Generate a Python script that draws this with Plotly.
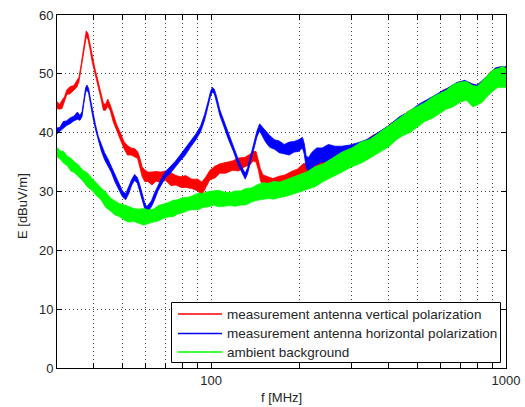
import plotly.graph_objects as go

# ---------------- data ----------------
red_f = [30, 30.6, 31.2, 31.8, 32.4, 33.2, 34.2, 35.0, 35.6, 36.2, 36.8, 37.3, 37.7, 38.2, 38.8, 39.5,
         40.3, 41.2, 42.2, 43.1, 43.8, 44.6, 45.5, 46.5, 47.8, 49.2, 50.6, 52.0, 53.5, 55.0, 56.3,
         57.3, 58.3, 59.5, 61, 63, 65, 67.5, 70, 73, 76, 79, 82, 86, 90, 93, 96, 99, 103, 107, 112,
         118, 124, 130, 135, 139, 142, 144.5, 147, 150, 155, 162, 170, 178, 187, 196, 205, 214, 225,
         240, 255, 272, 290, 310, 330, 355, 380, 405, 435, 465, 500, 535, 570, 610, 650, 690, 725,
         760, 790, 820, 850, 880, 910, 940, 970, 1000]
red_c = [44.7, 44.4, 44.8, 45.6, 46.9, 47.2, 47.6, 48.2, 49.0, 51.0, 53.4, 55.4, 56.8, 56.4, 54.6, 52.6,
         50.6, 48.6, 46.4, 44.4, 44.3, 45.1, 44.2, 42.6, 40.9, 39.4, 37.9, 37.0, 36.8, 36.6, 36.2,
         35.0, 33.4, 32.7, 32.5, 32.2, 32.6, 32.4, 32.7, 32.1, 31.9, 31.6, 31.7, 31.3, 31.1, 30.5,
         31.6, 32.8, 33.3, 33.9, 34.0, 34.4, 34.6, 35.0, 35.4, 36.0, 35.9, 34.6, 32.8, 31.9, 31.4,
         31.3, 31.6, 31.9, 32.3, 32.8, 33.4, 33.6, 33.6, 33.7, 34.3, 35.0, 35.6, 36.5, 37.1, 38.0,
         38.8, 40.0, 41.0, 42.0, 42.9, 43.9, 44.6, 45.6, 46.3, 47.1, 47.3, 46.8, 46.5, 47.1, 47.8,
         48.6, 49.3, 49.6, 49.8, 49.6]
red_hw = [0.6, 0.4, 0.7, 0.5, 0.4, 0.6, 0.4, 0.5, 0.4, 0.5, 0.4, 0.5, 0.5, 0.5, 0.4, 0.6,
          0.4, 0.5, 0.4, 0.6, 0.5, 0.6, 0.5, 0.7, 0.5, 0.6, 0.6, 0.8, 0.6, 0.7, 0.6,
          0.7, 0.8, 1.0, 0.8, 1.1, 0.8, 0.9, 0.8, 1.1, 0.8, 0.9, 1.0, 0.8, 1.0, 1.1,
          0.9, 0.8, 1.0, 0.8, 0.9, 0.8, 1.1, 0.8, 0.9, 0.8, 0.9, 0.9, 1.0, 0.9, 1.1,
          0.9, 1.0, 0.9, 1.1, 1.0, 1.3, 1.3, 1.4, 1.5, 1.4, 1.6, 1.5, 1.5, 1.4, 1.6,
          1.4, 1.5, 1.4, 1.6, 1.4, 1.5, 1.4, 1.6, 1.4, 1.5, 1.4, 1.6, 1.4, 1.5, 1.4,
          1.6, 1.4, 1.5, 1.4, 1.5]

blue_f = [30, 30.7, 31.5, 32.3, 33.2, 34.2, 35.2, 35.9, 36.5, 37.0, 37.5, 37.9, 38.4, 39.0, 39.7,
          40.5, 41.4, 42.4, 43.5, 44.6, 45.8, 47.2, 48.7, 50.0, 51.3, 52.5, 53.8, 55.0, 56.2, 57.3,
          58.4, 59.5, 60.4, 61.4, 62.7, 64.3, 66, 68, 70, 72.5, 75.5, 78.5, 81.5, 85, 88.5, 92, 95,
          97.5, 99.5, 101, 102.5, 104.5, 107, 110.5, 114.5, 119, 123.5, 127.5, 130.5, 133, 136,
          139.5, 143, 146, 149, 153, 158, 164, 170, 177, 184, 191, 198, 204, 207, 210, 214, 220,
          228, 238, 250, 263, 278, 295, 315, 340, 370, 400, 435, 470, 505, 545, 590, 635, 680, 725,
          765, 800, 840, 880, 920, 960, 1000]
blue_c = [40.3, 40.5, 41.3, 41.6, 42.0, 42.4, 42.9, 42.5, 43.2, 45.4, 47.2, 47.7, 47.1, 45.2, 43.0,
          41.0, 39.0, 37.4, 36.0, 35.0, 33.8, 32.2, 30.7, 29.6, 29.1, 30.2, 31.6, 32.4, 31.9, 30.6,
          29.0, 27.6, 26.9, 27.3, 27.9, 29.2, 30.6, 31.8, 32.9, 33.6, 34.6, 35.7, 36.7, 38.0, 39.2,
          40.6, 42.6, 44.8, 46.6, 47.3, 47.0, 45.5, 43.4, 41.5, 39.3, 37.3, 35.0, 33.5, 32.6, 33.6,
          35.6, 37.8, 39.8, 40.9, 40.3, 39.3, 38.5, 38.0, 37.6, 37.2, 37.3, 37.6, 37.8, 38.3, 37.2,
          35.0, 34.6, 35.4, 36.0, 36.2, 36.5, 36.4, 36.3, 36.4, 36.8, 37.5, 38.6, 39.8, 41.2, 42.2,
          43.3, 44.3, 45.2, 46.2, 47.0, 47.5, 46.8, 46.7, 47.6, 48.6, 49.5, 49.8, 49.7]
blue_hw = [0.5, 0.4, 0.6, 0.4, 0.5, 0.4, 0.6, 0.4, 0.4, 0.4, 0.4, 0.4, 0.4, 0.4, 0.4,
           0.4, 0.4, 0.5, 0.6, 0.6, 0.5, 0.6, 0.5, 0.5, 0.5, 0.6, 0.5, 0.5, 0.5, 0.5,
           0.5, 0.5, 0.5, 0.5, 0.5, 0.6, 0.5, 0.5, 0.5, 0.6, 0.5, 0.5, 0.6, 0.5, 0.5,
           0.5, 0.5, 0.4, 0.4, 0.4, 0.4, 0.5, 0.5, 0.5, 0.5, 0.5, 0.5, 0.5, 0.5, 0.5,
           0.5, 0.5, 0.5, 0.6, 0.7, 0.9, 1.0, 0.8, 1.0, 0.8, 1.1, 0.9, 1.0, 0.9, 0.9,
           1.0, 1.2, 1.3, 1.4, 1.2, 1.5, 1.3, 1.4, 1.5, 1.5, 1.4, 1.5, 1.4, 1.5, 1.4,
           1.5, 1.4, 1.5, 1.4, 1.5, 1.4, 1.5, 1.4, 1.5, 1.4, 1.5, 1.4, 1.5]

green_f = [30, 30.8, 31.6, 32.5, 33.4, 34.4, 35.5, 36.7, 38, 39.4, 40.8, 42.3, 43.9, 45.5, 47.2,
           49, 50.8, 52.7, 54.7, 56.8, 59, 61.3, 63.7, 66.2, 68.8, 71.5, 74.3, 77.2, 80.3, 83.5,
           86.8, 90.2, 94, 98, 102, 106, 111, 116, 121, 126, 131, 137, 143, 149, 156, 163, 171,
           180, 190, 200, 212, 225, 240, 258, 278, 300, 322, 346, 372, 400, 425, 447, 472, 500,
           530, 565, 597, 627, 662, 700, 735, 771, 800, 832, 865, 903, 940, 979, 1000]
green_c = [36.7, 36.2, 35.8, 35.2, 34.6, 34.1, 33.5, 32.7, 32.0, 31.2, 30.4, 29.6, 28.6, 27.8, 27.2,
           26.8, 26.4, 26.1, 26.0, 25.8, 25.7, 25.7, 25.9, 26.3, 26.6, 26.9, 27.1, 27.4, 27.7, 27.9,
           28.1, 28.3, 28.5, 28.7, 28.9, 28.8, 28.7, 28.7, 28.8, 28.9, 29.1, 29.4, 29.8, 30.1, 30.1,
           30.2, 30.3, 30.6, 31.0, 31.4, 31.9, 32.5, 33.2, 34.1, 35.0, 35.8, 36.6, 37.3, 38.3, 39.4,
           40.4, 41.2, 41.9, 42.7, 43.5, 44.3, 45.0, 45.6, 46.3, 46.9, 47.1, 46.2, 46.3, 47.0, 47.9,
           48.9, 49.3, 49.5, 49.3]
green_hw = [0.8, 0.7, 1.0, 0.8, 1.1, 0.9, 1.0, 0.9, 1.2, 1.0, 1.1, 1.0, 1.3, 1.1, 1.2,
            1.1, 1.3, 1.3, 1.1, 1.2, 1.4, 1.2, 1.1, 1.3, 1.2, 1.2, 1.4, 1.2, 1.3, 1.1,
            1.2, 1.4, 1.2, 1.3, 1.2, 1.4, 1.2, 1.1, 1.3, 1.2, 1.4, 1.2, 1.3, 1.4, 1.3,
            1.5, 1.3, 1.4, 1.4, 1.5, 1.5, 1.7, 1.5, 1.6, 1.7, 1.6, 1.8, 1.6, 1.7, 1.8,
            1.6, 1.7, 1.9, 1.7, 1.6, 1.8, 1.7, 1.6, 1.9, 1.7, 1.6, 1.8, 1.6, 1.8, 1.7,
            1.8, 1.6, 1.8, 1.6]

series_names = ["measurement antenna vertical polarization",
                "measurement antenna horizontal polarization",
                "ambient background"]
series_colors = ["rgb(255,0,0)", "rgb(0,0,255)", "rgb(0,255,0)"]
series_data = [(red_f, red_c, red_hw), (blue_f, blue_c, blue_hw), (green_f, green_c, green_hw)]

x_tickvals = [40, 50, 60, 70, 80, 90, 100, 200, 300, 400, 500, 600, 700, 800, 900, 1000]
x_ticktext = ["", "", "", "", "", "", "100", "", "", "", "", "", "", "", "", "1000"]
y_tickvals = [0, 10, 20, 30, 40, 50, 60]

FONT = "Liberation Sans, Arial, Helvetica, sans-serif"
W, H = 525, 407
ML, MR, MT, MB = 57, 19, 15, 39
PW, PH = W - ML - MR, H - MT - MB


def px_x(px):  # page pixel -> paper x
    return (px - ML) / PW


def px_y(py):  # page pixel -> paper y
    return (H - MB - py) / PH


fig = go.Figure()
for name, color, (f, c, hw) in zip(series_names, series_colors, series_data):
    hi = [ci + h for ci, h in zip(c, hw)]
    lo = [ci - h for ci, h in zip(c, hw)]
    fig.add_trace(go.Scatter(
        x=list(f) + list(f)[::-1], y=hi + lo[::-1], name=name,
        mode="lines", fill="toself", fillcolor=color,
        line=dict(color=color, width=0.8),
        hoverinfo="skip", showlegend=False))

# legend box (drawn as shapes + real-text annotations to match the reference layout)
shapes = [dict(type="rect", xref="paper", yref="paper",
               x0=px_x(171.5), x1=px_x(500.5), y0=px_y(362.5), y1=px_y(302.5),
               line=dict(color="black", width=1), fillcolor="white", layer="above")]
annotations = []
row_y = [314, 333.5, 352]
for name, color, ry in zip(series_names, series_colors, row_y):
    shapes.append(dict(type="line", xref="paper", yref="paper",
                       x0=px_x(178), x1=px_x(222), y0=px_y(ry), y1=px_y(ry),
                       line=dict(color=color, width=1.5), layer="above"))
    annotations.append(dict(text=name, xref="paper", yref="paper",
                            x=px_x(225), y=px_y(ry), xanchor="left", yanchor="middle",
                            showarrow=False,
                            font=dict(family=FONT, size=13.5, color="#262626")))

annotations += [
    dict(text="f [MHz]", xref="paper", yref="paper", x=px_x(281), y=px_y(397),
         xanchor="center", yanchor="middle", showarrow=False,
         font=dict(family=FONT, size=13, color="#262626")),
    dict(text="E [dBuV/m]", xref="paper", yref="paper", x=px_x(22), y=px_y(206),
         xanchor="center", yanchor="middle", showarrow=False, textangle=-90,
         font=dict(family=FONT, size=13, color="#262626")),
]

axis_common = dict(
    showline=True, linecolor="black", linewidth=1, mirror="ticks",
    ticks="inside", ticklen=5, tickcolor="black", tickwidth=1,
    showgrid=True, gridcolor="#444444", gridwidth=1, griddash="1px,3px",
    zeroline=False, automargin=False,
    tickfont=dict(family=FONT, size=13, color="#262626"),
)

fig.update_layout(
    width=W, height=H, autosize=False, showlegend=False,
    margin=dict(l=ML, r=MR, t=MT, b=MB, pad=0, autoexpand=False),
    paper_bgcolor="white", plot_bgcolor="white",
    font=dict(family=FONT, size=13, color="#262626"),
    xaxis=dict(type="log", range=[1.4771, 3.0], tickmode="array",
               tickvals=x_tickvals, ticktext=x_ticktext, **axis_common),
    yaxis=dict(range=[0, 60], tickmode="array", tickvals=y_tickvals, **axis_common),
    shapes=shapes,
    annotations=annotations,
)

fig.write_html(
    "out.html",
    config={"responsive": False, "displayModeBar": False},
    post_script="document.documentElement.style.overflow='hidden';"
                "document.body.style.margin='0';document.body.style.padding='0';"
                "document.body.style.overflow='hidden';",
)
